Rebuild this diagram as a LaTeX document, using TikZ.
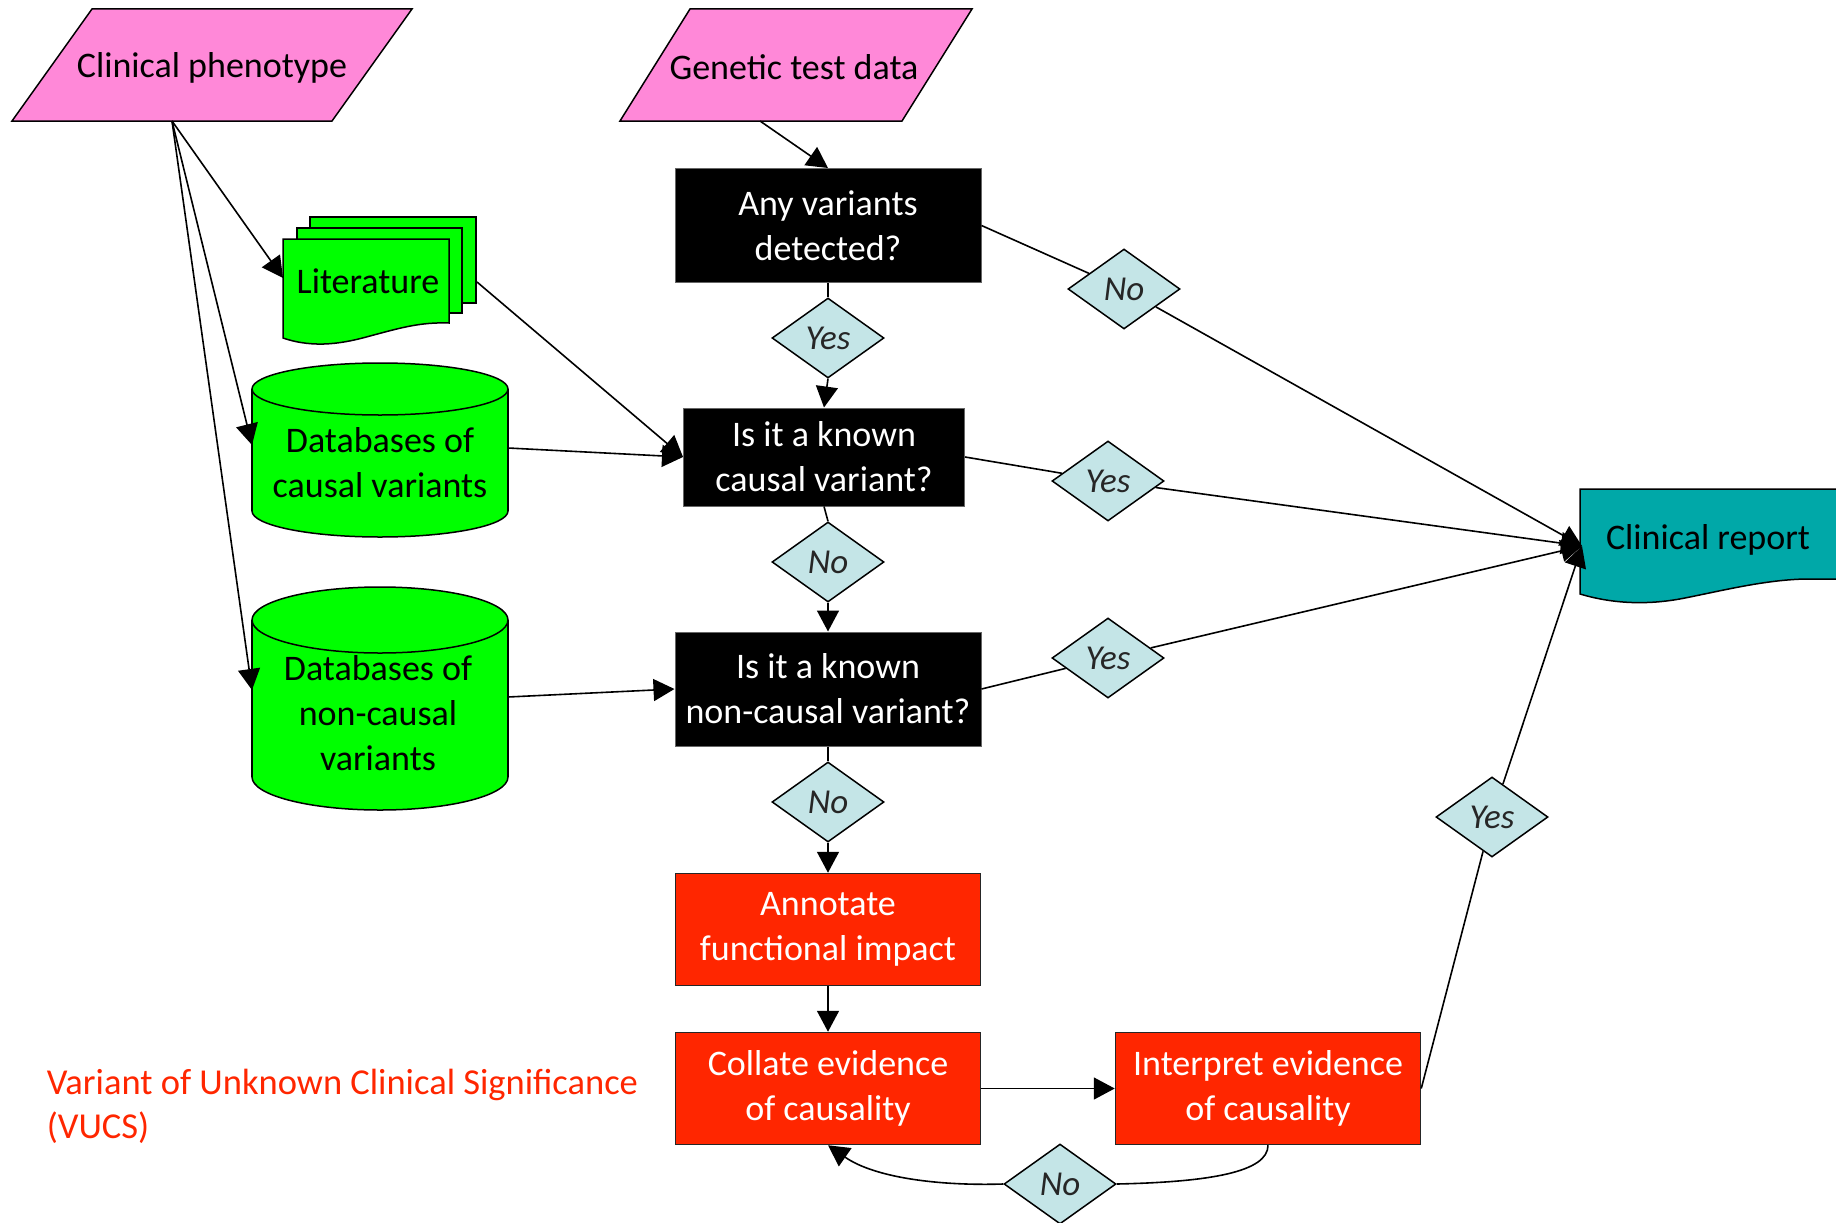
\documentclass[tikz,border=0pt]{standalone}
\usepackage{fontspec}
\setmainfont{Carlito}
\usetikzlibrary{arrows.meta,shapes.geometric}
\definecolor{pinkf}{HTML}{FF88D8}
\definecolor{greenf}{HTML}{00FF00}
\definecolor{tealf}{HTML}{00A8A8}
\definecolor{boxred}{HTML}{FF2600}
\definecolor{diafill}{HTML}{C4E5E7}
\definecolor{redtxt}{HTML}{FF2600}
\begin{document}
\begin{tikzpicture}[x=1pt,y=-1pt,
  line width=1.6pt,
  arr/.style={-{Triangle[length=21pt,width=22pt]}},
  txt/.style={font=\fontsize{36}{45}\selectfont, align=center, inner sep=0pt},
  darkbox/.style={txt, draw=black!60, line width=1pt, fill=black, text=white, minimum width=306pt, minimum height=114pt},
  redbox/.style={txt, draw=black!85, line width=1.5pt, fill=boxred, text=white, minimum width=305pt, minimum height=112pt},
  lbl/.style={diamond, aspect=1.4, draw, line width=1.5pt, fill=diafill, minimum width=112pt, minimum height=80pt, inner sep=0pt, font=\fontsize{35}{40}\selectfont\itshape, text=black!85},
  shp/.style={line width=1.5pt}
]
\useasboundingbox (0,0) rectangle (1836,1223);

% Clinical phenotype
\filldraw[shp, fill=pinkf] (92,9) -- (412,9) -- (332,121) -- (12,121) -- cycle;
\node[txt] (cp) at (212,68) {Clinical phenotype};
\coordinate (cpb) at (172,121);

% Genetic test data
\filldraw[shp, fill=pinkf] (690,9) -- (972,9) -- (902,121) -- (620,121) -- cycle;
\node[txt] (gtd) at (794,67) {Genetic test data};
\coordinate (gtdb) at (760,121);

% Literature stack
\filldraw[shp, fill=greenf] (310,217) rectangle (476,303);
\filldraw[shp, fill=greenf] (297,228) rectangle (462,313);
\filldraw[shp, fill=greenf] (283,239) -- (449,239) -- (449,323) .. controls (420,322) and (400,328) .. (370,336) .. controls (345,343) and (315,349) .. (283,338) -- cycle;
\node[txt] (lit) at (368,281) {Literature};
\coordinate (litw) at (283,278);
\coordinate (lite) at (477,282);

% Databases of causal variants
\filldraw[shp, fill=greenf] (380,511) ellipse [x radius=128pt, y radius=26pt];
\fill[greenf] (252,389) rectangle (508,511);
\draw[shp] (252,389) -- (252,511) (508,389) -- (508,511);
\filldraw[shp, fill=greenf] (380,389) ellipse [x radius=128pt, y radius=26pt];
\node[txt] (dbc) at (380,463) {Databases of\\causal variants};
\coordinate (dbcw) at (252,445);
\coordinate (dbce) at (508,448);

% Databases of non-causal variants
\filldraw[shp, fill=greenf] (380,777) ellipse [x radius=128pt, y radius=33pt];
\fill[greenf] (252,620) rectangle (508,777);
\draw[shp] (252,620) -- (252,777) (508,620) -- (508,777);
\filldraw[shp, fill=greenf] (380,620) ellipse [x radius=128pt, y radius=33pt];
\node[txt] (dbn) at (378,713) {Databases of\\non-causal\\variants};
\coordinate (dbnw) at (252,690);
\coordinate (dbne) at (508,697);

% Clinical report
\fill[tealf] (1836,489) -- (1580,489) -- (1580,594) .. controls (1610,603) and (1645,606) .. (1685,598) .. controls (1725,590) and (1765,580) .. (1805,579) -- (1836,579) -- cycle;
\draw[shp] (1836,489) -- (1580,489) -- (1580,594) .. controls (1610,603) and (1645,606) .. (1685,598) .. controls (1725,590) and (1765,580) .. (1805,579) -- (1836,579);
\node[txt] (cr) at (1708,540) {Clinical report};
\coordinate (crw) at (1582,546);

% Process boxes
\node[darkbox] (any) at (828,225.5) {Any variants\\detected?};
\node[darkbox, minimum width=281pt, minimum height=98pt] (kc) at (824,457) {Is it a known\\causal variant?};
\node[darkbox] (knc) at (828,689) {Is it a known\\non-causal variant?};
\node[redbox] (ann) at (828,929.5) {Annotate\\functional impact};
\node[redbox] (col) at (828,1088.5) {Collate evidence\\of causality};
\node[redbox] (intp) at (1268,1088.5) {Interpret evidence\\of causality};

% Decision labels
\node[lbl] (d1) at (828,338) {Yes};
\node[lbl] (d2) at (828,562) {No};
\node[lbl] (d3) at (828,802) {No};
\node[lbl] (d4) at (1124,289) {No};
\node[lbl] (d5) at (1108,481) {Yes};
\node[lbl] (d6) at (1108,658) {Yes};
\node[lbl] (d7) at (1492,817) {Yes};
\node[lbl] (d8) at (1060,1184) {No};

% Red annotation
\node[txt, anchor=west, align=left, text=redtxt, font=\fontsize{36.5}{44}\selectfont] (vucs) at (46,1106) {Variant of Unknown Clinical Significance\\(VUCS)};

% Connectors
\draw[arr] (cpb) -- (litw);
\draw[arr] (cpb) -- (dbcw);
\draw[arr] (cpb) -- (dbnw);
\draw[arr] (lite) -- (kc.west);
\draw[arr] (dbce) -- (kc.west);
\draw[arr] (dbne) -- (knc.west);
\draw[arr] (gtdb) -- (any.north);
\draw (any.south) -- (d1.north);
\draw[arr] (d1.south) -- (kc.north);
\draw (kc.south) -- (d2.north);
\draw[arr] (d2.south) -- (knc.north);
\draw (knc.south) -- (d3.north);
\draw[arr] (d3.south) -- (ann.north);
\draw[arr] (ann.south) -- (col.north);
\draw[arr] (col.east) -- (intp.west);
\draw (any.east) -- (d4);
\draw[arr] (d4) -- (crw);
\draw (kc.east) -- (d5);
\draw[arr] (d5) -- (crw);
\draw (knc.east) -- (d6);
\draw[arr] (d6) -- (crw);
\draw (intp.east) -- (d7);
\draw[arr] (d7) -- (crw);
\draw (intp.south) .. controls (1268,1172) and (1210,1182) .. (d8.east);
\draw[arr] (d8.west) .. controls (940,1186) and (875,1178) .. (col.south);
\end{tikzpicture}
\end{document}
